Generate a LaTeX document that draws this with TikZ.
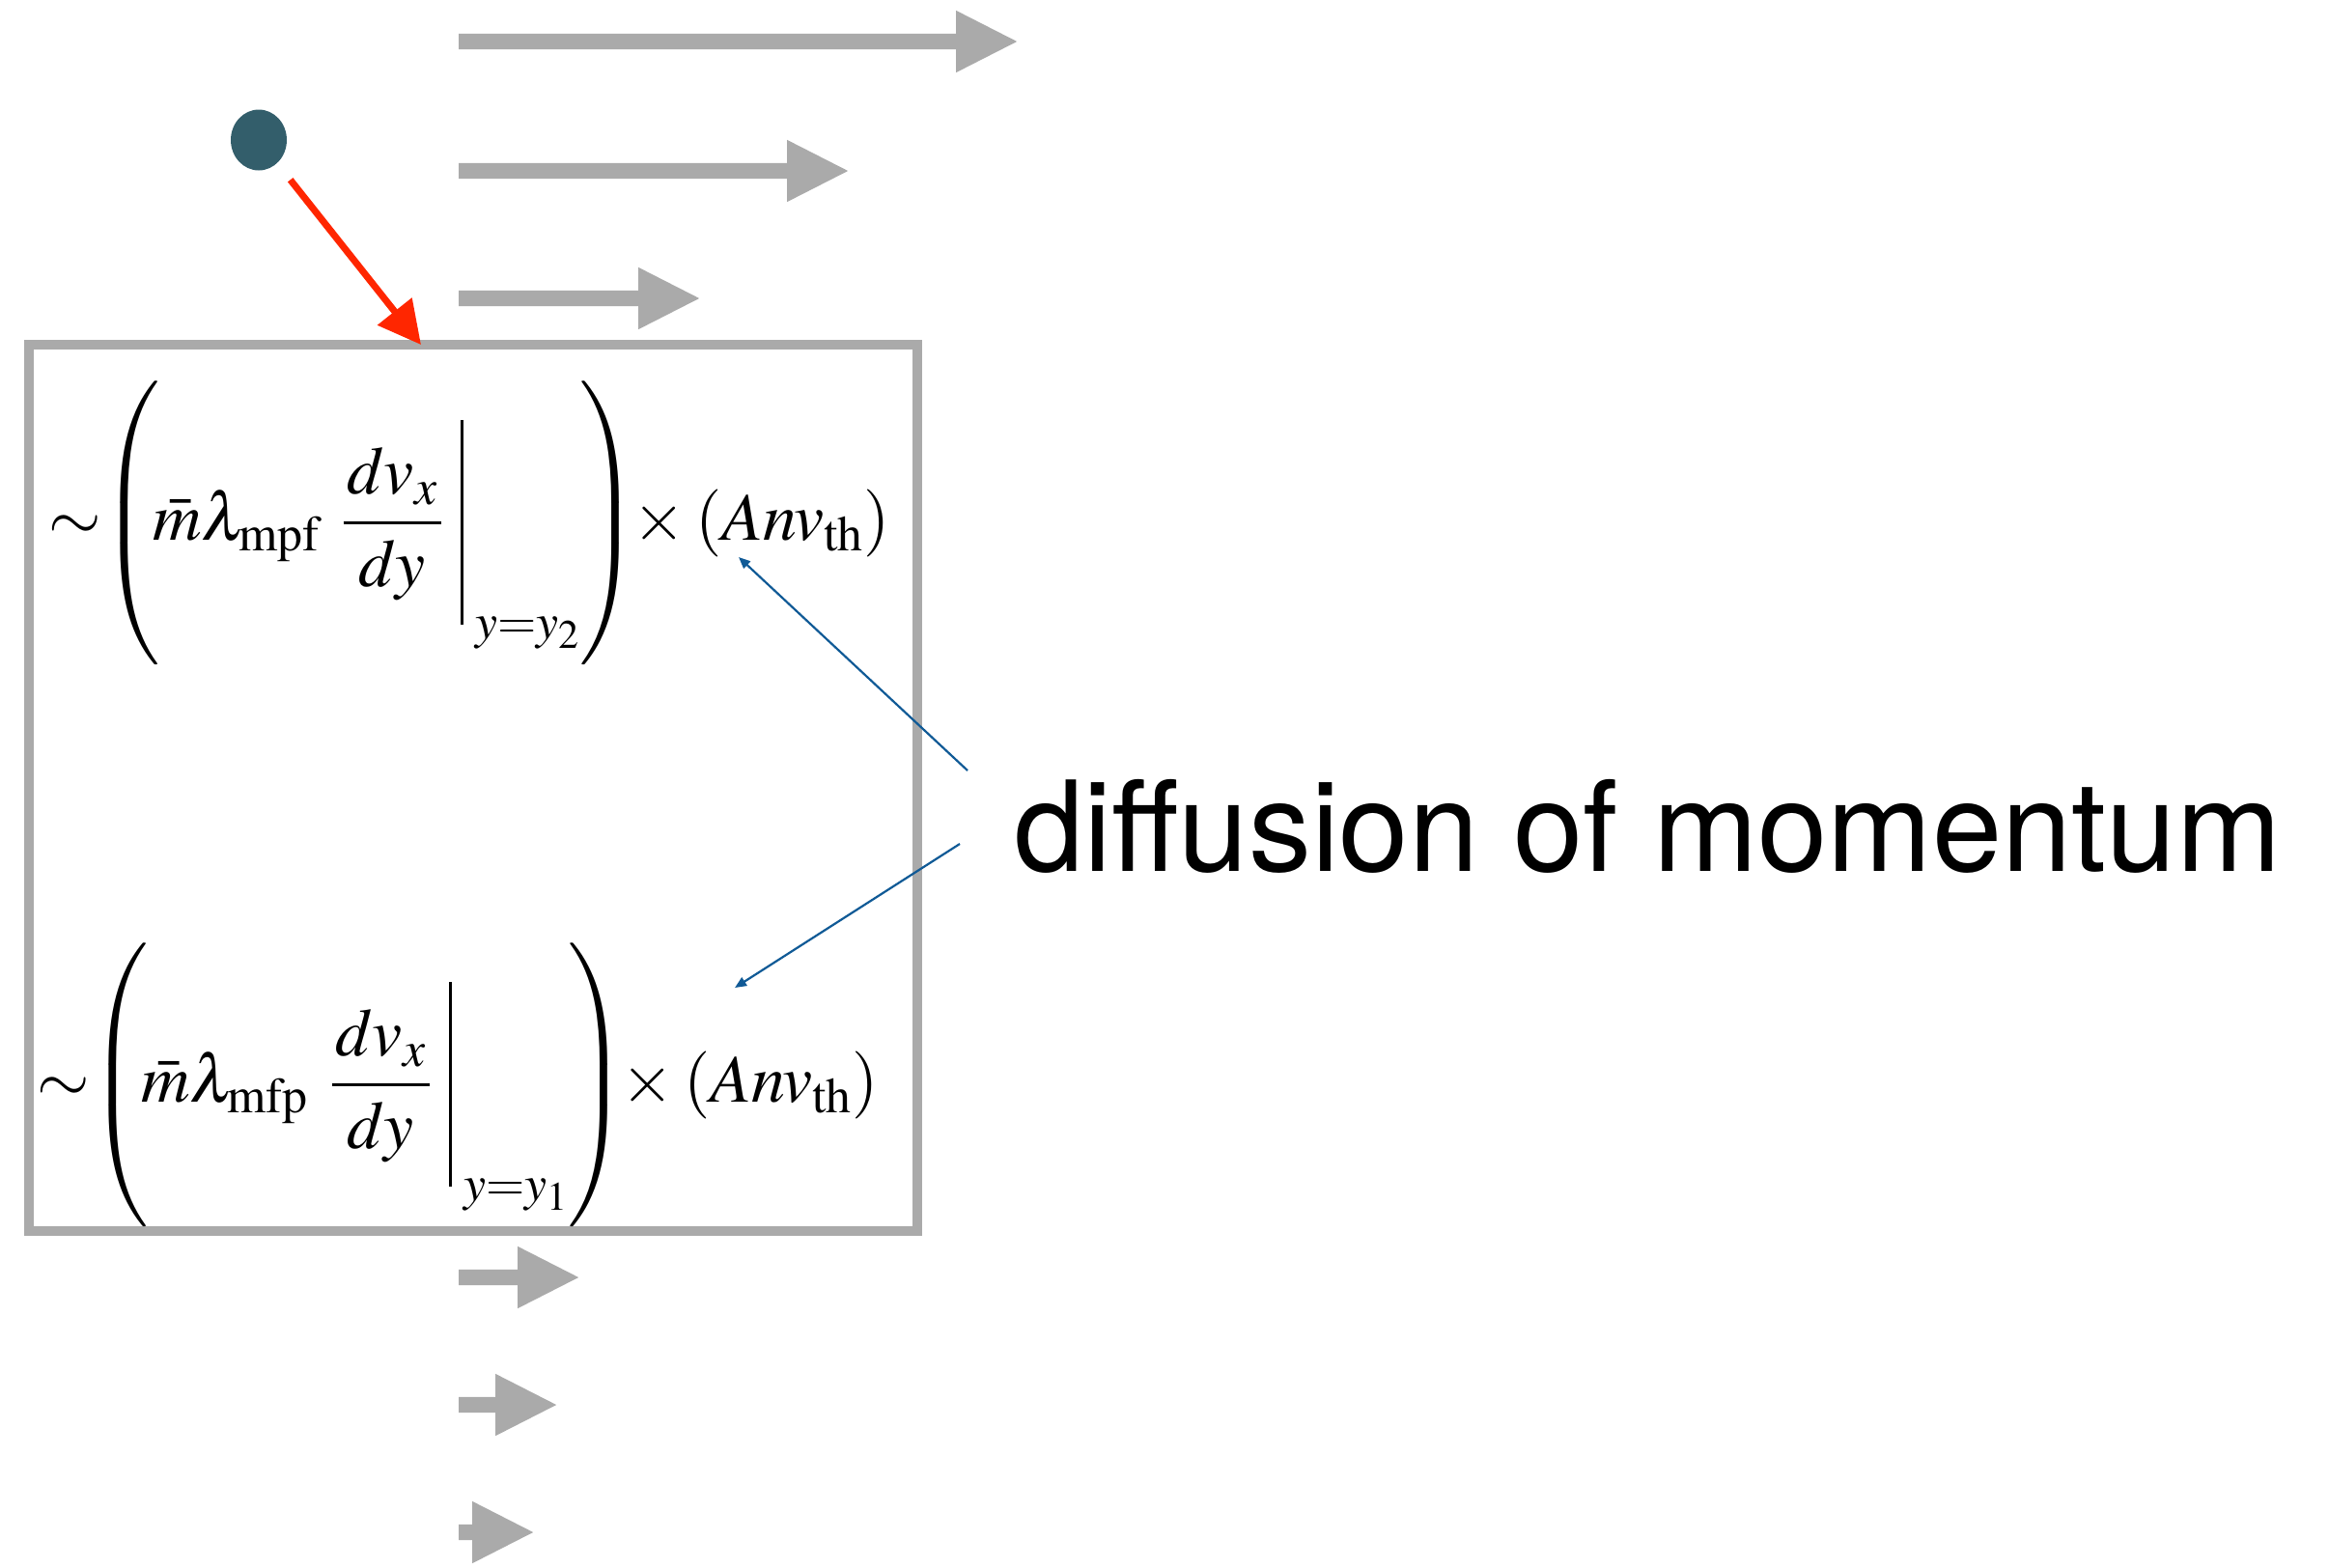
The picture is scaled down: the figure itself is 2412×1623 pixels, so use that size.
\documentclass[tikz,border=0pt]{standalone}
\usepackage{amsmath}
\usepackage{mathptmx}
\usepackage[no-math]{fontspec}
\newfontfamily\labelfont{TeX Gyre Heros}
\usetikzlibrary{positioning,arrows.meta,shapes.arrows,shapes.geometric}
\definecolor{flowgray}{RGB}{170,170,170}
\definecolor{partteal}{RGB}{51,94,107}
\definecolor{hitred}{RGB}{255,38,0}
\definecolor{noteblue}{RGB}{16,90,150}
\newcommand{\momflux}[2]{%
  \sim\mkern-4mu\left(\rule[-122pt]{0pt}{280pt}\mkern-2mu\bar{m}\lambda_{\mathrm{#1}}\mkern6mu
  \dfrac{\mkern1mu dv_x\mkern1mu}{dy}\mkern5mu
  \mathord{\rule[-88pt]{3pt}{212pt}\rule[-100pt]{0pt}{1pt}\kern12pt}_{y=y_{#2}}\right)
  \mkern-4mu\times(Anv_{\mathrm{th}})}
\tikzset{
  flowarr/.style={single arrow, fill=flowgray, draw=none,
    inner xsep=0pt, inner ysep=8pt,
    minimum width=64, single arrow head extend=24pt,
    single arrow tip angle=54, anchor=tail},
  layerbox/.style={draw=flowgray, line width=10pt, inner sep=0pt},
  fluxeq/.style={anchor=base west, inner sep=0pt,
    font=\fontsize{70}{84}\selectfont},
  hitarr/.style={-{Triangle[length=44pt,width=44pt]}, draw=hitred,
    line width=7pt},
  notearr/.style={-{Triangle[length=12pt,width=10pt]}, draw=noteblue,
    line width=2.2pt},
}
\begin{document}
\begin{tikzpicture}[x=1pt, y=-1pt]
  \useasboundingbox (0,0) rectangle (2412,1623);
  % ---- flow profile ----
  \foreach \y/\len [count=\i] in {43/578, 177/403, 309/249, 1323/124, 1455/101, 1587/77}
    \node[flowarr, minimum height=\len] (flow\i) at (475,\y) {};

  % ---- layer and the two fluxes ----
  \node[layerbox, minimum width=920, minimum height=918] (layer) at (490,816) {};
  \node[fluxeq] (fluxtop) at (50,559)  {$\momflux{mpf}{2}$};
  \node[fluxeq] (fluxbot) at (38,1141) {$\momflux{mfp}{1}$};

  % ---- particle hitting the layer ----
  \node[ellipse, fill=partteal, inner sep=0pt, minimum width=58, minimum height=63] (particle) at (268,145) {};
  \coordinate (hit) at (436,357);
  \draw[hitarr, shorten <=22pt] (particle) -- (hit);

  % ---- label ----
  \node[anchor=base west, inner sep=0pt, font=\labelfont\fontsize{130}{150}\selectfont] (note) at (1050,902) {diffusion of momentum};
  \coordinate (noteA) at (1002,798);
  \coordinate (noteB) at (994,874);
  \coordinate (thA) at (765,577);
  \coordinate (thB) at (761,1023);
  \draw[notearr] (noteA) -- (thA);
  \draw[notearr] (noteB) -- (thB);
\end{tikzpicture}
\end{document}
